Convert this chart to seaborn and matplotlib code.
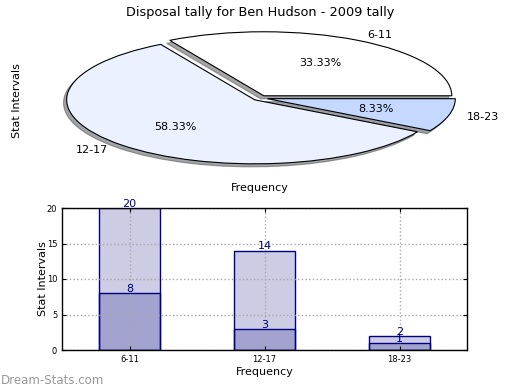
import matplotlib

matplotlib.use("Agg")
import matplotlib.pyplot as plt
import seaborn as sns

intervals = ["6-11", "12-17", "18-23"]
pie_counts = [4, 7, 1]
totals = [20, 14, 2]
lower = [8, 3, 1]
pie_colors = ["#ffffff", "#ebf1fe", "#c5d8ff"]

W, H = 520, 390


def main():
    fig = plt.figure(figsize=(W / 100, H / 100), dpi=100)

    # top: exploded, squashed pie
    ax1 = fig.add_axes([62 / W, 1 - 177 / H, 396 / W, 153 / H])
    ax1.pie(
        pie_counts,
        labels=intervals,
        colors=pie_colors,
        explode=[0.04] * 3,
        autopct="%.2f%%",
        shadow=dict(ox=-0.012, oy=-0.034),
        pctdistance=0.6,
        labeldistance=1.1,
        wedgeprops=dict(edgecolor="black", linewidth=0.8),
        textprops=dict(fontsize=8),
    )
    ax1.set_aspect("auto")
    ax1.set_xlim(-1.053, 1.053)
    ax1.set_ylim(-1.234, 1.156)
    ax1.set_title("Disposal tally for Ben Hudson - 2009 tally", fontsize=9.3)
    ax1.set_xlabel("Frequency", fontsize=8)
    ax1.set_ylabel("Stat Intervals", fontsize=8)
    ax1.yaxis.set_label_coords(-0.101, 0.5)

    # bottom: overlapping bars
    ax2 = fig.add_axes([62 / W, 40 / H, 405 / W, 142 / H])
    sns.barplot(x=intervals, y=totals, color="navy", saturation=1, width=0.45, ax=ax2)
    sns.barplot(x=intervals, y=lower, color="navy", saturation=1, width=0.45, ax=ax2)
    for p in ax2.patches:
        p.set_facecolor((0, 0, 0.5, 0.2))
        p.set_edgecolor("navy")
        p.set_linewidth(1)
    for i, (t, l) in enumerate(zip(totals, lower)):
        for v in (t, l):
            ax2.annotate(str(v), (i, v), xytext=(0, 3), textcoords="offset points",
                         ha="center", va="center", color="navy", fontsize=8)
    ax2.set_xlim(-0.5, 2.5)
    ax2.set_ylim(0, 20)
    ax2.set_yticks([0, 5, 10, 15, 20])
    ax2.grid(True, linestyle=":", color="#a8a8a8", linewidth=1)
    ax2.set_axisbelow(False)
    ax2.tick_params(labelsize=6, direction="in", top=True, right=True, length=3)
    for s in ax2.spines.values():
        s.set_color("black")
        s.set_linewidth(1)
        s.set_zorder(3)
    ax2.set_xlabel("Frequency", fontsize=8, labelpad=2)
    ax2.set_ylabel("Stat Intervals", fontsize=8)
    ax2.yaxis.set_label_coords(-0.035, 0.5)

    fig.text(1 / W, 1 - 380 / H, "Dream-Stats.com", color="#999999", fontsize=8.5, va="center")

    fig.savefig("out.png", dpi=100)


if __name__ == "__main__":
    main()
